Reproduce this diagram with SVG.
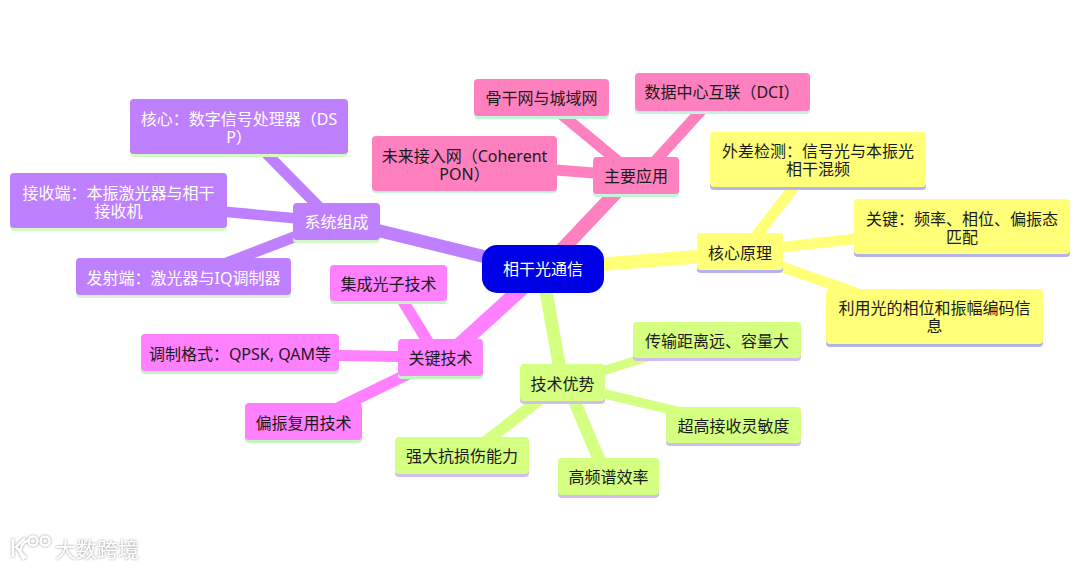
<svg xmlns="http://www.w3.org/2000/svg" width="1080" height="569" viewBox="0 0 1080 569">
<style>
text{font-family:"Noto Sans","Noto Sans CJK SC",sans-serif;font-size:16px;text-anchor:middle;fill:#1a1a1a}
.w text,text.w{fill:#fff}
line{fill:none;stroke-linecap:butt}
.py{stroke:#ffff78}.pp{stroke:#ff80bf}.pu{stroke:#bf80ff}.mg{stroke:#ff80ff}.lm{stroke:#d4ff80}
rect{stroke:none}
.fy{fill:#ffff78}.fp{fill:#ff80bf}.fu{fill:#bf80ff}.fm{fill:#ff80ff}.fl{fill:#d4ff80}
.sy{fill:#b3b3f0}.sp{fill:#c4f5dc}.su{fill:#d4f8c8}.sm{fill:#c0f5c4}.sl{fill:#d2bcf0}
.wm{font-size:21px;fill:#fff;filter:url(#glow);font-family:"Noto Sans CJK SC",sans-serif;text-anchor:start}
</style>
<defs>
<filter id="glow" x="-20%" y="-30%" width="140%" height="160%"><feDropShadow dx="0" dy="0" stdDeviation="1.200" flood-color="#777" flood-opacity="0.9"/></filter>
</defs>
<rect width="1080" height="569" fill="#fff"/>
<g id="connectors">
<line class="pu" x1="370" y1="228.500" x2="495" y2="259.200" stroke-width="13"/>
<line class="pu" x1="260" y1="147" x2="326" y2="214" stroke-width="11"/>
<line class="pu" x1="217" y1="211" x2="303" y2="219" stroke-width="10.500"/>
<line class="pu" x1="224" y1="264" x2="307" y2="232" stroke-width="11"/>
<line class="pp" x1="624" y1="184" x2="555" y2="257" stroke-width="14"/>
<line class="pp" x1="709" y1="102" x2="649" y2="168" stroke-width="11"/>
<line class="pp" x1="555" y1="109" x2="625" y2="167" stroke-width="11"/>
<line class="pp" x1="547" y1="169.200" x2="603" y2="173.800" stroke-width="11"/>
<line class="py" x1="590" y1="265.300" x2="708" y2="255.700" stroke-width="13.500"/>
<line class="py" x1="800" y1="179" x2="750" y2="244" stroke-width="11"/>
<line class="py" x1="772" y1="248.200" x2="865" y2="237.800" stroke-width="10.500"/>
<line class="py" x1="772" y1="263.500" x2="858" y2="293.500" stroke-width="10.500"/>
<line class="lm" x1="544" y1="280" x2="561" y2="375" stroke-width="13"/>
<line class="lm" x1="594" y1="373.700" x2="657" y2="353.900" stroke-width="9"/>
<line class="lm" x1="594" y1="391.400" x2="682" y2="412.300" stroke-width="9.500"/>
<line class="lm" x1="571" y1="393" x2="603" y2="469" stroke-width="12.500"/>
<line class="lm" x1="544" y1="396" x2="480" y2="446" stroke-width="11.500"/>
<line class="mg" x1="455" y1="349" x2="530" y2="281" stroke-width="15"/>
<line class="mg" x1="398" y1="293" x2="433" y2="350" stroke-width="11.500"/>
<line class="mg" x1="328" y1="355.300" x2="409" y2="356.700" stroke-width="11"/>
<line class="mg" x1="336" y1="409" x2="414" y2="371" stroke-width="11.500"/>
</g>
<g id="root"><rect x="482" y="245" width="122" height="48" rx="15" fill="#0000e6"/><text class="w" x="543" y="275">相干光通信</text></g>
<g id="sys" class="w"><rect class="su" x="293" y="206" width="87" height="37" rx="4"/><rect class="fu" x="293" y="203" width="87" height="37" rx="4"/><text x="336.500" y="228">系统组成</text></g>
<g id="sys-dsp" class="w"><rect class="su" x="130" y="120" width="218" height="37" rx="4"/><rect class="fu" x="130" y="99" width="218" height="55" rx="4"/><text x="239" y="125">核心&#xFF1A;数字信号处理器&#xFF08;DS</text><text x="239" y="143">P&#xFF09;</text></g>
<g id="sys-rx" class="w"><rect class="su" x="10" y="194" width="217" height="37" rx="4"/><rect class="fu" x="10" y="173" width="217" height="55" rx="4"/><text x="118.500" y="199">接收端&#xFF1A;本振激光器与相干</text><text x="118.500" y="217">接收机</text></g>
<g id="sys-tx" class="w"><rect class="su" x="76" y="261" width="215" height="37" rx="4"/><rect class="fu" x="76" y="258" width="215" height="37" rx="4"/><text x="183.500" y="284">发射端&#xFF1A;激光器与IQ调制器</text></g>
<g id="app"><rect class="sp" x="593" y="160" width="86" height="37" rx="4"/><rect class="fp" x="593" y="157" width="86" height="37" rx="4"/><text x="636" y="182">主要应用</text></g>
<g id="app-bb"><rect class="sp" x="474" y="82" width="135" height="37" rx="4"/><rect class="fp" x="474" y="79" width="135" height="37" rx="4"/><text x="541.500" y="104">骨干网与城域网</text></g>
<g id="app-dci"><rect class="sp" x="635" y="75" width="175" height="39" rx="4"/><rect class="fp" x="635" y="73" width="175" height="38" rx="4"/><text x="722" y="98">数据中心互联&#xFF08;DCI&#xFF09;</text></g>
<g id="app-pon"><rect class="sp" x="372" y="156" width="185" height="37" rx="4"/><rect class="fp" x="372" y="136" width="185" height="55" rx="4"/><text x="464.500" y="162">未来接入网&#xFF08;Coherent</text><text x="464.500" y="180">PON&#xFF09;</text></g>
<g id="core"><rect class="sy" x="697" y="236" width="86" height="37" rx="4"/><rect class="fy" x="697" y="233" width="86" height="37" rx="4"/><text x="740" y="259">核心原理</text></g>
<g id="core-a"><rect class="sy" x="710" y="153" width="216" height="37" rx="4"/><rect class="fy" x="710" y="132" width="216" height="55" rx="4"/><text x="818" y="157">外差检测&#xFF1A;信号光与本振光</text><text x="818" y="175">相干混频</text></g>
<g id="core-b"><rect class="sy" x="854" y="220" width="216" height="37" rx="4"/><rect class="fy" x="854" y="199" width="216" height="55" rx="4"/><text x="962" y="225">关键&#xFF1A;频率、相位、偏振态</text><text x="962" y="243">匹配</text></g>
<g id="core-c"><rect class="sy" x="826" y="310" width="217" height="37" rx="4"/><rect class="fy" x="826" y="289" width="217" height="55" rx="4"/><text x="934.500" y="314">利用光的相位和振幅编码信</text><text x="934.500" y="332">息</text></g>
<g id="adv"><rect class="sl" x="520" y="367" width="85" height="37" rx="4"/><rect class="fl" x="520" y="364" width="85" height="37" rx="4"/><text x="562.500" y="390">技术优势</text></g>
<g id="adv-a"><rect class="sl" x="633" y="325" width="168" height="36" rx="4"/><rect class="fl" x="633" y="322" width="168" height="36" rx="4"/><text x="717" y="347">传输距离远、容量大</text></g>
<g id="adv-b"><rect class="sl" x="666" y="410" width="135" height="36" rx="4"/><rect class="fl" x="666" y="407" width="135" height="36" rx="4"/><text x="733.500" y="432">超高接收灵敏度</text></g>
<g id="adv-c"><rect class="sl" x="558" y="461" width="101" height="37" rx="4"/><rect class="fl" x="558" y="458" width="101" height="37" rx="4"/><text x="608.500" y="483">高频谱效率</text></g>
<g id="adv-d"><rect class="sl" x="395" y="440" width="134" height="37" rx="4"/><rect class="fl" x="395" y="437" width="134" height="37" rx="4"/><text x="462" y="462">强大抗损伤能力</text></g>
<g id="tech"><rect class="sm" x="398" y="342" width="85" height="37" rx="4"/><rect class="fm" x="398" y="339" width="85" height="37" rx="4"/><text x="440.500" y="364">关键技术</text></g>
<g id="tech-a"><rect class="sm" x="330" y="267" width="117" height="37" rx="4"/><rect class="fm" x="330" y="265" width="117" height="36" rx="4"/><text x="388.500" y="290">集成光子技术</text></g>
<g id="tech-b"><rect class="sm" x="141" y="337" width="198" height="37" rx="4"/><rect class="fm" x="141" y="334" width="198" height="37" rx="4"/><text x="240" y="360">调制格式&#xFF1A;QPSK, QAM等</text></g>
<g id="tech-c"><rect class="sm" x="245" y="406" width="117" height="37" rx="4"/><rect class="fm" x="245" y="403" width="117" height="37" rx="4"/><text x="303.500" y="429">偏振复用技术</text></g>
<g id="watermark">
<g filter="url(#glow)" fill="none" stroke="#fff" stroke-width="2.500">
<path d="M13 539V557M25 538L16 547L26 558"/><path d="M30 540A11 11 0 0 0 24 559"/><circle cx="33" cy="541" r="4.500"/><circle cx="45" cy="541" r="4.500"/>
</g>
<text class="wm" x="55" y="557">大数跨境</text>
</g>
</svg>
